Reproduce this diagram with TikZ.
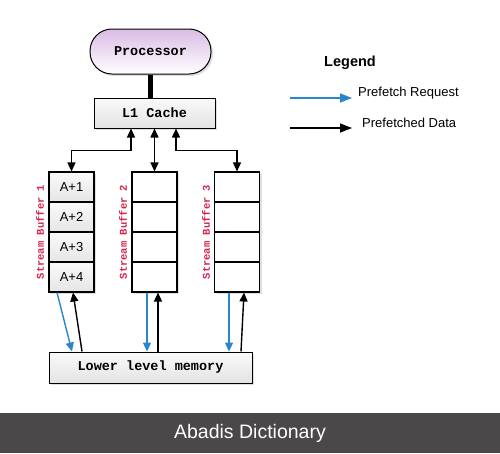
\documentclass[tikz,border=0pt]{standalone}
\usepackage{fontspec}
\setmainfont{Liberation Sans}
\newfontfamily\monofam{Liberation Mono}
\usetikzlibrary{arrows.meta,shadows,calc}
\definecolor{reqblue}{RGB}{40,135,200}
\definecolor{sbred}{RGB}{212,38,78}
\definecolor{barbg}{RGB}{75,72,73}
\definecolor{procpurple}{RGB}{218,188,228}
\begin{document}
\begin{tikzpicture}[x=1pt,y=-1pt,
  shd/.style={drop shadow={shadow xshift=2pt,shadow yshift=-2pt,opacity=0.25}},
  monolabel/.style={font=\monofam\bfseries\fontsize{13.5}{15}\selectfont},
  boxgray/.style={draw=black,line width=1pt,top color=gray!4,bottom color=gray!22,shd,monolabel},
  cell/.style={draw=black,line width=1.1pt,minimum width=45pt,minimum height=30pt,inner sep=0pt,fill=white,font=\fontsize{13}{15}\selectfont},
  fullcell/.style={cell,top color=gray!4,bottom color=gray!20},
  sblabel/.style={rotate=90,text=sbred,font=\monofam\bfseries\fontsize{10.5}{12}\selectfont},
  dat/.style={draw=black,line width=1.4pt,-{Triangle[length=9pt,width=8pt]}},
  req/.style={draw=reqblue,line width=1.4pt,-{Triangle[length=9pt,width=8pt]}},
  dbl/.style={draw=black,line width=1.4pt,{Triangle[length=9pt,width=8pt]}-{Triangle[length=9pt,width=8pt]}},
]
\useasboundingbox (0,0) rectangle (500,453);
\fill[white] (0,0) rectangle (500,453);

% processor and L1
\node[draw=black,line width=1pt,rounded corners=22pt,minimum width=121pt,minimum height=45pt,
  top color=procpurple,bottom color=white,shd,monolabel] (proc) at (150.5,51.5) {Processor};
\node[boxgray,minimum width=121pt,minimum height=30pt,inner sep=0pt] (l1) at (154.5,113) {L1 Cache};
\draw[line width=4.5pt] (proc.south -| 150.5,0) -- (l1.north -| 150.5,0);

% stream buffers
\foreach \b/\x in {1/71.5,2/154.5,3/237}{
  \foreach \c/\y in {1/187,2/217,3/247,4/277}{
    \ifnum\b=1
      \node[fullcell,shd] (b\b c\c) at (\x,\y) {A+\c};
    \else
      \node[cell,shd] (b\b c\c) at (\x,\y) {};
    \fi
  }
}
\node[sblabel] (sb1) at (40,232) {Stream Buffer 1};
\node[sblabel] (sb2) at (123,232) {Stream Buffer 2};
\node[sblabel] (sb3) at (206,232) {Stream Buffer 3};

% L1 to buffers
\draw[dbl] ([xshift=-23.5pt]l1.south) -- ++(0,22) -| (b1c1.north);
\draw[dbl] (l1.south) -- (b2c1.north);
\draw[dbl] ([xshift=21.5pt]l1.south) -- ++(0,22) -| (b3c1.north);

% lower level memory
\node[boxgray,minimum width=203pt,minimum height=31pt,inner sep=0pt] (mem) at (150.5,367.5) {Lower level memory};

% buffer <-> memory
\draw[req] ([xshift=-14.5pt]b1c4.south) -- ([xshift=-78.5pt]mem.north);
\draw[dat] ([xshift=-68.5pt]mem.north) -- ([xshift=1.5pt]b1c4.south);
\draw[req] ([xshift=-7.5pt]b2c4.south) -- ([xshift=-7.5pt]b2c4.south |- mem.north);
\draw[dat] ([xshift=3.5pt]b2c4.south |- mem.north) -- ([xshift=3.5pt]b2c4.south);
\draw[req] ([xshift=-8pt]b3c4.south) -- ([xshift=-8pt]b3c4.south |- mem.north);
\draw[dat] ([xshift=90.5pt]mem.north) -- ([xshift=7pt]b3c4.south);

% legend
\node[font=\bfseries\fontsize{14.5}{16}\selectfont] (leg) at (350,63) {Legend};
\coordinate (lr1) at (290,98);
\coordinate (lr2) at (352,98);
\coordinate (ld1) at (290,128);
\coordinate (ld2) at (352,128);
\draw[draw=reqblue,line width=1.4pt,-{Triangle[length=12pt,width=9pt]}] (lr1) -- (lr2);
\draw[draw=black,line width=1.4pt,-{Triangle[length=12pt,width=9pt]}] (ld1) -- (ld2);
\node[font=\fontsize{13}{15}\selectfont,anchor=west,inner sep=0pt] (lreq) at (358,93) {Prefetch Request};
\node[font=\fontsize{13}{15}\selectfont,anchor=west,inner sep=0pt] (ldat) at (362,123) {Prefetched Data};

% bottom bar
\fill[barbg] (0,413) rectangle (500,453);
\node[text=white,font=\fontsize{19.5}{22}\selectfont] (brand) at (250,433) {Abadis Dictionary};
\end{tikzpicture}
\end{document}
